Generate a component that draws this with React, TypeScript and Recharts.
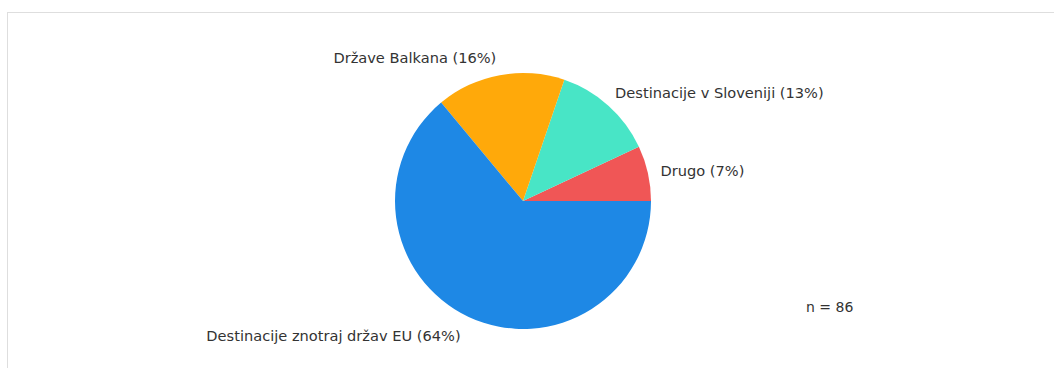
import { PieChart, Pie, Cell } from "recharts";

const categories = ["Drugo", "Destinacije v Sloveniji", "Države Balkana", "Destinacije znotraj držav EU"];
const counts = [6, 11, 14, 55];
const colors = ["#f05656", "#48e5c6", "#ffa90a", "#1e88e5"];
const sampleSize = 86;

const data = categories.map((name, i) => ({ name, value: counts[i] }));

const RAD = Math.PI / 180;
const FONT = "DejaVu Sans, Verdana, sans-serif";

interface LabelProps {
  cx?: number;
  cy?: number;
  midAngle?: number;
  outerRadius?: number;
  percent?: number;
  name?: string;
}

function SliceLabel({ cx = 0, cy = 0, midAngle = 0, outerRadius = 0, percent = 0, name }: LabelProps) {
  const r = outerRadius + 19;
  const right = Math.cos(-midAngle * RAD) > 0;
  const x = cx + r * Math.cos(-midAngle * RAD) - (right ? 6 : 0);
  const y = cy + r * Math.sin(-midAngle * RAD) + 1;
  return (
    <text
      x={x}
      y={y}
      fill="#333"
      fontSize={14.6}
      fontFamily={FONT}
      textAnchor={right ? "start" : "end"}
      dominantBaseline="central"
    >
      {`${name} (${Math.round(percent * 100)}%)`}
    </text>
  );
}

export default function App() {
  return (
    <div style={{ position: "absolute", left: 0, top: 0, width: 1054, height: 368, background: "#fff", overflow: "hidden" }}>
      <div
        style={{
          position: "absolute",
          left: 7,
          top: 12,
          width: 1100,
          height: 400,
          border: "1px solid #dedede",
          boxSizing: "border-box",
        }}
      />
      <PieChart
        width={1054}
        height={368}
        margin={{ top: 0, right: 0, bottom: 0, left: 0 }}
        style={{ position: "absolute", left: 0, top: 0 }}
      >
        <Pie
          data={data}
          dataKey="value"
          nameKey="name"
          cx={523}
          cy={201}
          outerRadius={128}
          startAngle={0}
          endAngle={360}
          stroke="none"
          labelLine={false}
          label={SliceLabel}
          isAnimationActive={false}
        >
          {data.map((d, i) => (
            <Cell key={d.name} fill={colors[i]} />
          ))}
        </Pie>
      </PieChart>
      <div
        style={{
          position: "absolute",
          left: 806,
          top: 299,
          fontSize: 14,
          fontFamily: FONT,
          color: "#333",
        }}
      >
        n = {sampleSize}
      </div>
    </div>
  );
}
